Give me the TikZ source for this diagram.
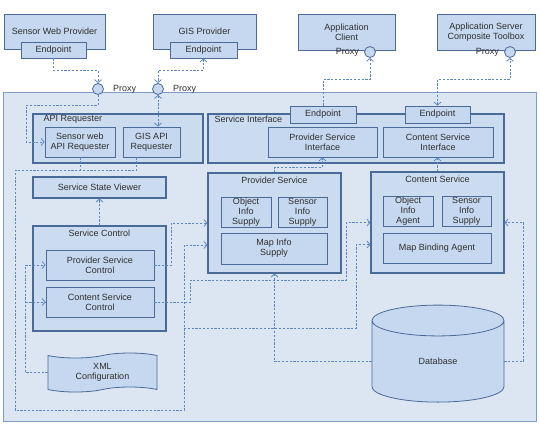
\documentclass[tikz,border=0pt]{standalone}
\usepackage{fontspec}
\setmainfont{Liberation Sans}
\usetikzlibrary{arrows.meta,positioning,shapes.geometric,shapes.symbols,calc}
\definecolor{bgblue}{HTML}{DCE6F2}
\definecolor{boxblue}{HTML}{C6D8EF}
\definecolor{grpblue}{HTML}{CCDCF0}
\definecolor{edgeblue}{HTML}{4A6A98}
\definecolor{outerblue}{HTML}{7F9CC4}
\definecolor{dashblue}{HTML}{5B87C2}
\definecolor{txtgray}{HTML}{2E2E2E}
\tikzset{
  box/.style={draw=edgeblue, fill=boxblue, line width=0.8pt, inner sep=0pt, align=center,
    text=txtgray, font=\fontsize{9}{10}\selectfont},
  group/.style={box, fill=grpblue, line width=1.1pt},
  title/.style={inner sep=1pt, text=txtgray, font=\fontsize{9}{10}\selectfont},
  proxy/.style={circle, draw=edgeblue, fill=boxblue, line width=0.8pt, minimum size=11pt, inner sep=0pt},
  link/.style={draw=dashblue, line width=0.8pt, dash pattern=on 2.2pt off 1.6pt},
  flow/.style={link, -{Straight Barb[length=3pt,width=7pt]}},
  twoway/.style={link, {Straight Barb[length=3pt,width=7pt]}-{Straight Barb[length=3pt,width=7pt]}}
}
\begin{document}
\begin{tikzpicture}[x=1pt,y=-1pt]
\useasboundingbox (0,0) rectangle (540,424);
\node[draw=outerblue, fill=bgblue, line width=0.8pt, minimum width=533pt, minimum height=329pt, inner sep=0pt] (sys) at (269.5,256.5) {};
% outside providers and clients
\node[box, minimum width=101pt, minimum height=35pt] (swp) at (54.5,31.5) {Sensor Web Provider};
\node[box, minimum width=65pt, minimum height=16pt] (swep) at (53.5,50) {Endpoint};
\node[box, minimum width=103pt, minimum height=35pt] (gisp) at (204.5,31.5) {GIS Provider};
\node[box, minimum width=67pt, minimum height=16pt] (gisep) at (203.5,50) {Endpoint};
\node[box, minimum width=97pt, minimum height=36pt] (appc) at (346.5,32) {Application\\Client};
\node[box, minimum width=98pt, minimum height=36pt] (apps) at (486,32) {Application Server\\Composite Toolbox};
\node[proxy] (p1) at (98,89) {};
\node[proxy] (p2) at (158,89) {};
\node[proxy] (pc) at (370,52) {};
\node[proxy] (ps) at (510,52) {};
\node[title, right=8pt of p1] (p1lbl) {Proxy};
\node[title, right=8pt of p2] (p2lbl) {Proxy};
\node[title, left=4pt of pc] (pclbl) {Proxy};
\node[title, left=4pt of ps] (pslbl) {Proxy};
% requesters and control
\node[group, minimum width=170pt, minimum height=49pt] (apireq) at (118,138.5) {};
\node[title, anchor=north west] (apilbl) at ([xshift=10pt,yshift=-1pt]apireq.north west) {API Requester};
\node[box, minimum width=70pt, minimum height=30pt] (swreq) at (80,142) {Sensor web\\API Requester};
\node[box, minimum width=57pt, minimum height=30pt] (gisreq) at (151.5,142) {GIS API\\Requester};
\node[group, minimum width=133pt, minimum height=21pt] (ssv) at (99.5,187.5) {Service State Viewer};
\node[group, minimum width=133pt, minimum height=105pt] (sctl) at (99.5,278.5) {};
\node[title, below=3pt of sctl.north] (sctllbl) {Service Control};
\node[box, minimum width=108pt, minimum height=30pt] (pctl) at (100,265) {Provider Service\\Control};
\node[box, minimum width=108pt, minimum height=30pt] (cctl) at (100,302) {Content Service\\Control};
\node[box, tape, minimum width=109pt, minimum height=39pt] (xml) at (102.5,372.5) {XML\\Configuration};
% interfaces
\node[group, minimum width=296pt, minimum height=49pt] (sif) at (356,138.5) {};
\node[title, anchor=north west] (siflbl) at ([xshift=6pt,yshift=-1pt]sif.north west) {Service Interface};
\node[box, minimum width=66pt, minimum height=17pt] (ep1) at (323,114.5) {Endpoint};
\node[box, minimum width=65pt, minimum height=17pt] (ep2) at (437.5,114.5) {Endpoint};
\node[box, minimum width=109pt, minimum height=30pt] (psi) at (322.5,142) {Provider Service\\Interface};
\node[box, minimum width=110pt, minimum height=30pt] (csi) at (438,142) {Content Service\\Interface};
% services
\node[group, minimum width=133pt, minimum height=100pt] (psvc) at (274.5,223) {};
\node[title, below=3pt of psvc.north] (psvclbl) {Provider Service};
\node[box, minimum width=50pt, minimum height=30pt] (ois) at (246,212) {Object\\Info\\Supply};
\node[box, minimum width=49pt, minimum height=30pt] (sis1) at (302.5,212) {Sensor\\Info\\Supply};
\node[box, minimum width=106pt, minimum height=31pt] (mis) at (274,248.5) {Map Info\\Supply};
\node[group, minimum width=133pt, minimum height=101pt] (csvc) at (437.5,222.5) {};
\node[title, below=3pt of csvc.north] (csvclbl) {Content Service};
\node[box, minimum width=50pt, minimum height=30pt] (oia) at (408,211) {Object\\Info\\Agent};
\node[box, minimum width=49pt, minimum height=30pt] (sis2) at (466.5,211) {Sensor\\Info\\Supply};
\node[box, minimum width=108pt, minimum height=30pt] (mba) at (437,248) {Map Binding Agent};
\node[box, cylinder, shape border rotate=90, aspect=0.8, minimum width=132pt, minimum height=97pt] (db) at (438,361.5) {Database};
% connectors
\draw[flow] (swep.south) -- ++(0,12) -| (p1.north);
\draw[flow] (p1.south) |- ++(-72,10) |- (swreq.west);
\draw[twoway] (gisep.south) -- ++(0,12) -| (p2.north);
\draw[twoway] (p2.south) -- (p2.south |- gisreq.north);
\draw[link] (swreq.south) -- ++(0,13);
\draw[flow] ([xshift=-15pt]gisreq.south) |- ++(-121.5,13) |- ++(169,240) |- ([yshift=-22pt]psvc.west);
\coordinate (lp) at (184,328);
\draw[flow] (lp) -| ([xshift=-14pt,yshift=-22pt]csvc.west) -- ([yshift=-22pt]csvc.west);
\draw[flow] (xml.west) -| ([xshift=-20pt]pctl.west) -- (pctl.west);
\draw[flow] ([xshift=-20pt]cctl.west) -- (cctl.west);
\draw[flow] (pctl.east) -- ++(17,0) |- (psvc.west);
\draw[flow] (cctl.east) -- ++(36,0) |- ++(156,-22) |- (csvc.west);
\draw[flow] (db.west) -| (psvc.south);
\draw[flow] (db.east) -- ++(19,0) |- (csvc.east);
\draw[flow] (sctl.north) -- (ssv.south);
\draw[flow] (psvc.north) -- ++(0,-5) -| (psi.south);
\draw[flow] (csvc.north) -- (csvc.north |- csi.south);
\draw[flow] (ep1.north) -- ++(0,-26) -| (pc.south);
\draw[twoway] (ep2.north) -- ++(0,-26) -| (ps.south);
\end{tikzpicture}
\end{document}
